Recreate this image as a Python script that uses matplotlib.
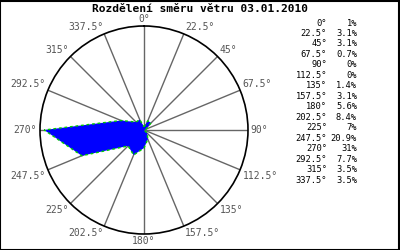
import numpy as np
import matplotlib
matplotlib.use('Agg')
import matplotlib.pyplot as plt
from matplotlib.patches import Rectangle

# wind direction distribution, 03.01.2010
directions = [0, 22.5, 45, 67.5, 90, 112.5, 135, 157.5, 180, 202.5, 225,
              247.5, 270, 292.5, 315, 337.5]
percents = [1, 3.1, 3.1, 0.7, 0, 0, 1.4, 3.1, 5.6, 8.4, 7, 20.9, 31, 7.7,
            3.5, 3.5]
dir_labels = ['0°', '22.5°', '45°', '67.5°', '90°', '112.5°', '135°', '157.5°',
              '180°', '202.5°', '225°', '247.5°', '270°', '292.5°', '315°',
              '337.5°']
pct_labels = ['1%', '3.1%', '3.1%', '0.7%', '0%', '0%', '1.4%', '3.1%', '5.6%',
              '8.4%', '7%', '20.9%', '31%', '7.7%', '3.5%', '3.5%']

mono = 'DejaVu Sans Mono'
rmax = 32.3

fig = plt.figure(figsize=(4, 2.5), dpi=100)
fig.patch.set_facecolor('white')

# polar axes centred at about (144, 130) px, radius 104 px
cx, cy, rad = 144 / 400, (250 - 130) / 250, 104
ax = fig.add_axes([cx - rad / 400, cy - rad / 250, 2 * rad / 400, 2 * rad / 250],
                  projection='polar')
ax.set_theta_zero_location('N')
ax.set_theta_direction(-1)
ax.set_ylim(0, rmax)
ax.set_yticks([])
ax.set_xticks(np.deg2rad(directions))
ax.set_xticklabels([])
ax.grid(True, color='#666666', linewidth=1)
ax.spines['polar'].set_color('black')
ax.spines['polar'].set_linewidth(1.2)

theta = np.deg2rad(directions + [directions[0]])
r = percents + [percents[0]]
ax.fill(theta, r, facecolor='#0000ff', edgecolor='#00cc00',
        linewidth=1, linestyle=(0, (2, 2)), zorder=3)

# direction labels just outside the circle
for d, lab in zip(directions, dir_labels):
    s, c = np.sin(np.deg2rad(d)), np.cos(np.deg2rad(d))
    ha = 'center' if abs(s) < 0.01 else ('left' if s > 0 else 'right')
    va = 'center' if abs(c) < 0.01 else ('bottom' if c > 0 else 'top')
    ax.annotate(lab, xy=(np.deg2rad(d), rmax), xytext=(2 * s, 1.5 * c),
                textcoords='offset points', ha=ha, va=va, fontsize=7,
                family=mono, color='#555555', annotation_clip=False)

fig.text(0.5, 1 - 9 / 250, 'Rozdělení směru větru 03.01.2010', ha='center',
         va='center', fontsize=8.1, fontweight='bold', family=mono)

# legend table on the right
for i, (dl, pl) in enumerate(zip(dir_labels, pct_labels)):
    y = 1 - (23 + i * 10.47) / 250
    fig.text(327 / 400, y, dl, ha='right', va='center', fontsize=6.3, family=mono)
    fig.text(357 / 400, y, pl, ha='right', va='center', fontsize=6.3, family=mono)

fig.patches.append(Rectangle((0.001, 0.002), 0.997, 0.996, transform=fig.transFigure,
                             fill=False, edgecolor='black', linewidth=1.5))

fig.savefig('out.png', dpi=100)
